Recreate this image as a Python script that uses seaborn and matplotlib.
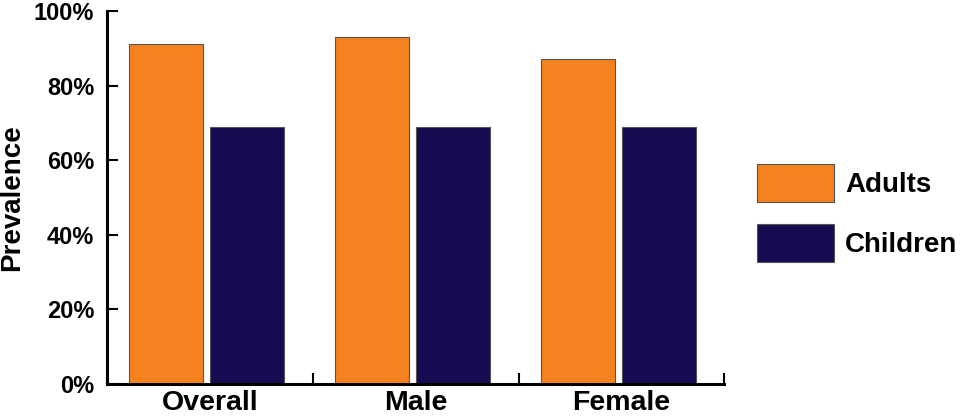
import matplotlib
matplotlib.use("Agg")
import matplotlib.pyplot as plt
import pandas as pd
import seaborn as sns
from matplotlib.ticker import FixedLocator, PercentFormatter

# data
groups = ["Overall", "Male", "Female"]
adults = [91, 93, 87]
children = [69, 69, 69]
series = ["Adults", "Children"]
colours = ["#F5821F", "#170A50"]

df = pd.DataFrame({
    "Group": groups * 2,
    "Prevalence": adults + children,
    "Series": [series[0]] * len(groups) + [series[1]] * len(groups),
})

sns.set_theme(style="white")
plt.rcParams["font.family"] = ["Liberation Sans", "DejaVu Sans"]
plt.rcParams["font.weight"] = "bold"
plt.rcParams["text.color"] = "black"
plt.rcParams["axes.labelcolor"] = "black"
plt.rcParams["xtick.color"] = "black"
plt.rcParams["ytick.color"] = "black"

fig = plt.figure(figsize=(9.62, 4.19), dpi=100)
ax = fig.add_axes([0.111, 0.0835, 0.642, 0.8905])

sns.barplot(data=df, x="Group", y="Prevalence", hue="Series", palette=colours,
            saturation=1, width=0.79, gap=0.086, edgecolor="#555555",
            linewidth=0.8, ax=ax)

# bars sit a touch left of the group centres in the original
shift = 0.015
ax.set_ylim(0, 100)
ax.set_xlim(-0.5 + shift, 2.5 + shift)
ax.set_yticks([0, 20, 40, 60, 80, 100])
ax.yaxis.set_major_formatter(PercentFormatter(decimals=0))
ax.set_xticks([i + shift for i in range(len(groups))], groups)
ax.xaxis.set_minor_locator(FixedLocator([i - 0.5 + shift for i in range(len(groups) + 1)]))

ax.tick_params(axis="y", direction="in", length=8, width=1.5,
               labelsize=17, pad=9, left=True)
ax.tick_params(axis="x", which="major", length=0, labelsize=20.5, pad=4)
ax.tick_params(axis="x", which="minor", direction="in", length=8, width=1.5,
               bottom=True)
for lab in ax.get_xticklabels() + ax.get_yticklabels():
    lab.set_fontweight("bold")

sns.despine(ax=ax)
for side in ["left", "bottom"]:
    ax.spines[side].set_linewidth(2.2)
    ax.spines[side].set_color("black")

ax.set_xlabel("")
ax.set_ylabel("Prevalence", fontsize=20, fontweight="bold", labelpad=6)

handles, labels = ax.get_legend_handles_labels()
ax.get_legend().remove()
fig.legend(handles, labels, loc="center left", bbox_to_anchor=(0.787, 0.4916),
           frameon=False, borderpad=0, borderaxespad=0,
           handlelength=2.77, handleheight=1.68, handletextpad=0.4,
           labelspacing=0.82, prop={"weight": "bold", "size": 20})

fig.savefig("out.png", dpi=100)
